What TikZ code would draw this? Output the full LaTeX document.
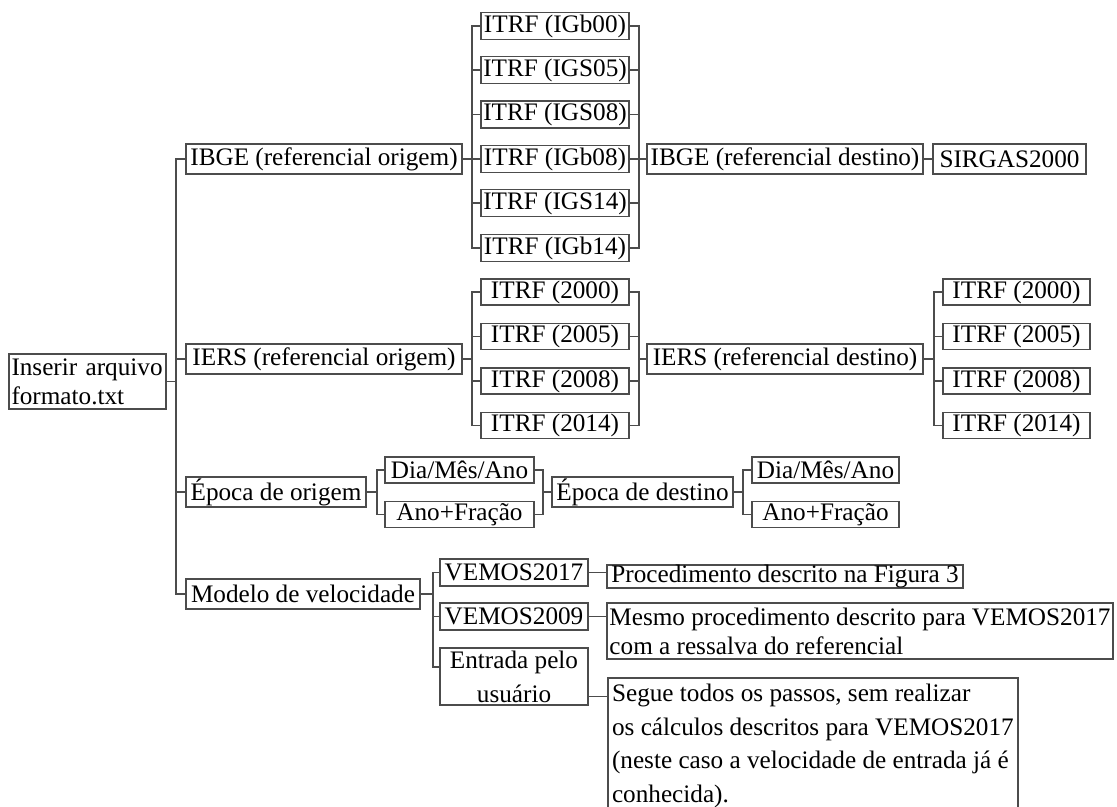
\documentclass[tikz,border=0pt]{standalone}
\usepackage{fontspec}
\setmainfont{Liberation Serif}
\usetikzlibrary{positioning}

\begin{document}
\begin{tikzpicture}[x=0.5pt, y=-0.5pt]
\tikzstyle{box}=[draw=black!70, line width=0.9pt, rectangle, inner sep=0pt, align=center, font=\fontsize{12.6}{14.5}\selectfont]
\tikzstyle{item}=[box, minimum width=74pt, minimum height=13.5pt]
\tikzstyle{line}=[draw=black!70, line width=0.9pt]

\def \bus {9}

\useasboundingbox (0,0) rectangle (1117,807);
\clip (0,0) rectangle (1117,807);

\node[box, minimum height=27.5pt, text width=76pt, inner xsep=1.25pt, align=left]	(inserir) at (87.5,381.5)	{Inserir arquivo\\formato.txt};

\node[box, minimum width=138pt, minimum height=15pt]	(ibgeo) at	(324,159)	{IBGE (referencial origem)};
\node[box, minimum width=138pt, minimum height=15pt]	(ierso) at	(324,359)	{IERS (referencial origem)};
\node[box, minimum width=90pt, minimum height=15pt]		(epocao) at	(276,492)	{Época de origem};
\node[box, minimum width=117pt, minimum height=15pt]	(modelo) at	(303,594)	{Modelo de velocidade};

\foreach \name/\lab/\y in {igb00/IGb00/26, igs05/IGS05/70, igs08/IGS08/114.5, igb08/IGb08/159, igs14/IGS14/203, igb14/IGb14/248}
	\node[item] (\name) at (555,\y) {ITRF (\lab)};

\node[box, minimum width=138pt, minimum height=15pt]	(ibged) at	(785,159)	{IBGE (referencial destino)};
\node[box, minimum width=76.5pt, minimum height=15pt]	(sirgas) at	(1009.5,159)	{SIRGAS2000};

\foreach \yr/\y in {2000/292, 2005/336.5, 2008/381, 2014/425.5}
	\node[item, minimum height=13pt] (o\yr) at (555,\y) {ITRF (\yr)};

\node[box, minimum width=138pt, minimum height=15pt]	(iersd) at	(785,359)	{IERS (referencial destino)};

\foreach \yr/\y in {2000/292, 2005/336.5, 2008/381, 2014/425.5}
	\node[item, minimum width=73.5pt, minimum height=13pt] (d\yr) at (1016.5,\y) {ITRF (\yr)};

\node[item, minimum width=74.5pt, minimum height=13pt]	(diao) at	(459.5,470)	{Dia/Mês/Ano};
\node[item, minimum width=74.5pt, minimum height=13pt]	(anoo) at	(459.5,514.5)	{Ano+Fração};
\node[box, minimum width=90.5pt, minimum height=15pt]	(epocad) at	(642.5,492)	{Época de destino};
\node[item, minimum width=73.5pt, minimum height=13pt]	(diad) at	(825.5,470)	{Dia/Mês/Ano};
\node[item, minimum width=73.5pt, minimum height=13pt]	(anod) at	(825.5,514.5)	{Ano+Fração};

\node[item]		(vemos17) at	(514,572.5)	{VEMOS2017};
\node[item]		(vemos09) at	(514,616.5)	{VEMOS2009};
\node[item, minimum height=28.5pt, font=\fontsize{12.6}{17}\selectfont]	(entrada) at	(514,676.5)	{Entrada pelo\\usuário};

\node[box, minimum width=178pt, minimum height=10.5pt]	(proced) at	(785,576.5)	{Procedimento descrito na Figura 3};
\node[box, minimum width=253pt, minimum height=28pt, align=left]	(mesmo) at	(860,631)	{Mesmo procedimento descrito para VEMOS2017\\com a ressalva do referencial};
\node[box, anchor=north west, minimum width=205pt, inner xsep=1.5pt, align=left, font=\fontsize{12.6}{16.8}\selectfont]	(segue) at	(607,677)	{\strut Segue todos os passos, sem realizar\\os cálculos descritos para VEMOS2017\\(neste caso a velocidade de entrada já é\\conhecida).\strut};

\foreach \name in {ibgeo, ierso, epocao, modelo}
	\path[line] (inserir.east) -- ++(\bus,0) |- (\name.west);

\foreach \name in {igb00, igs05, igs08, igb08, igs14, igb14} {
	\path[line] (ibgeo.east) -- ++(\bus,0) |- (\name.west);
	\path[line] (\name.east) -- ++(\bus,0) |- (ibged.west);
}
\path[line] (ibged) -- (sirgas);

\foreach \yr in {2000, 2005, 2008, 2014} {
	\path[line] (ierso.east) -- ++(\bus,0) |- (o\yr.west);
	\path[line] (o\yr.east) -- ++(\bus,0) |- (iersd.west);
	\path[line] (iersd.east) -- ++(\bus+1,0) |- (d\yr.west);
}

\foreach \name in {diao, anoo} {
	\path[line] (epocao.east) -- ++(\bus+1,0) |- (\name.west);
	\path[line] (\name.east) -- ++(\bus-1,0) |- (epocad.west);
}
\foreach \name in {diad, anod}
	\path[line] (epocad.east) -- ++(\bus,0) |- (\name.west);

\path[line] (modelo.east) -- ++(12,0) |- (vemos17.west);
\path[line] (modelo.east) -- ++(12,0) |- (vemos09.west);
\path[line] (modelo.east) -- ++(12,0) |- (entrada.173);

\path[line] (vemos17) -- (vemos17 -| proced.west);
\path[line] (vemos09) -- (vemos09 -| mesmo.west);
\path[line] (entrada.-15) -- (entrada.-15 -| segue.west);

\end{tikzpicture}
\end{document}
